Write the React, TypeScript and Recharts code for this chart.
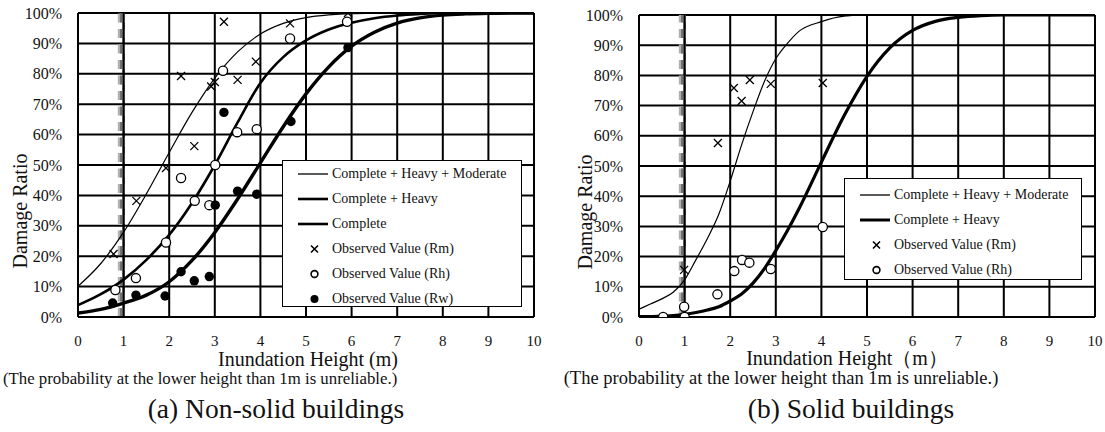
import React from "react";
import {
  ComposedChart,
  Line,
  Scatter,
  XAxis,
  YAxis,
  CartesianGrid,
  ReferenceLine,
  Legend,
  Label,
} from "recharts";

const SERIF = "'Liberation Serif', 'Times New Roman', serif";

const xTicks = [0, 1, 2, 3, 4, 5, 6, 7, 8, 9, 10];
const yTicks = [0, 10, 20, 30, 40, 50, 60, 70, 80, 90, 100];

// (a) Non-solid buildings - fitted curves
const curveXA = [0, 0.5, 1, 1.5, 2, 2.5, 3, 3.5, 4, 4.5, 5, 5.5, 6, 6.5, 7, 7.5, 8, 8.5, 9, 9.5, 10];
const chmA = [10.1, 17.6, 27.9, 40.5, 54.1, 67.3, 78.6, 87.2, 93.1, 96.6, 98.5, 99.4, 99.8, 99.9, 100, 100, 100, 100, 100, 100, 100];
const chA = [3.9, 7.5, 12.3, 18.8, 27, 37.5, 50, 64, 77, 85.5, 91, 94.6, 96.8, 98.3, 99.2, 99.7, 100, 100, 100, 100, 100];
const cA = [1.3, 2.5, 4.6, 7.2, 11.6, 18.6, 27.8, 38.8, 50.7, 62.6, 73.4, 82.3, 89.1, 93.7, 96.7, 98.4, 99.3, 99.7, 99.9, 100, 100];

// observed values (x = inundation height m, y = %)
const rmA = [[0.78, 20.7], [1.28, 38.2], [1.93, 49], [2.26, 79.3], [2.55, 56.2], [2.92, 75.8], [3.0, 77.3], [3.2, 97.1], [3.5, 78], [3.9, 84], [4.65, 96.6], [5.92, 100]];
const rhA = [[0.82, 8.9], [1.27, 12.8], [1.93, 24.5], [2.26, 45.7], [2.56, 38.2], [2.88, 36.8], [3.01, 50], [3.18, 81], [3.49, 60.8], [3.92, 61.8], [4.65, 91.6], [5.9, 97.1]];
const rwA = [[0.76, 4.6], [1.27, 7.2], [1.91, 6.9], [2.26, 14.9], [2.55, 11.9], [2.88, 13.3], [3.01, 36.8], [3.2, 67.3], [3.5, 41.4], [3.92, 40.4], [4.67, 64.3], [5.92, 88.6]];

// (b) Solid buildings
const curveXB = [0, 0.25, 0.5, 0.75, 1, 1.25, 1.5, 1.75, 2, 2.25, 2.5, 2.75, 3, 3.25, 3.5, 4, 4.5, 5, 5.5, 6, 6.5, 7, 7.5, 8, 9, 10];
const chmB = [2.6, 4.3, 6.0, 8.2, 12.3, 19, 26, 34, 45, 57, 68, 78, 85.5, 90.5, 94.5, 97.8, 99.6, 100, 100, 100, 100, 100, 100, 100, 100, 100];
const chB = [0.1, 0.15, 0.3, 0.5, 0.9, 1.5, 2.3, 3.4, 5.3, 7.6, 11.2, 16, 22, 28.5, 35.6, 51.3, 66.7, 79.7, 89.1, 94.9, 97.9, 99.2, 99.8, 100, 100, 100];

const rmB = [[0.99, 15.6], [1.73, 57.6], [2.08, 75.8], [2.25, 71.5], [2.43, 78.5], [2.89, 77.2], [4.03, 77.5]];
const rhB = [[0.53, 0], [1.0, 0], [0.99, 3.4], [1.72, 7.5], [2.09, 15.2], [2.26, 18.9], [2.42, 18], [2.89, 15.9], [4.03, 29.8]];

const toRows = (xs: number[], ys: number[]) => xs.map((x, i) => ({ x, y: ys[i] }));
const toPts = (pts: number[][]) => pts.map(([x, y]) => ({ x, y }));

const Cross = (props: any) => {
  const { cx, cy } = props;
  const s = 4;
  return (
    <path
      d={`M${cx - s},${cy - s}L${cx + s},${cy + s}M${cx - s},${cy + s}L${cx + s},${cy - s}`}
      stroke="#000"
      strokeWidth={1.3}
      fill="none"
    />
  );
};
const OpenDot = (props: any) => (
  <circle cx={props.cx} cy={props.cy} r={4.6} fill="#fff" stroke="#000" strokeWidth={1.3} />
);
const FullDot = (props: any) => <circle cx={props.cx} cy={props.cy} r={4.7} fill="#000" />;

type LegendItem = { label: string; kind: "line" | "x" | "o" | "dot"; w?: number };

function LegendBox({ items, padTop }: { items: LegendItem[]; padTop: number }) {
  return (
    <div
      style={{
        width: "100%",
        height: "100%",
        boxSizing: "border-box",
        border: "1.5px solid #000",
        background: "#fff",
        paddingTop: padTop,
        fontFamily: SERIF,
        fontSize: 14,
        color: "#111",
      }}
    >
      {items.map((it) => (
        <div key={it.label} style={{ height: 24.9, display: "flex", alignItems: "center" }}>
          <svg width={49} height={14} style={{ flex: "none" }}>
            {it.kind === "line" && <line x1={15} x2={45} y1={7} y2={7} stroke="#000" strokeWidth={it.w} />}
            {it.kind === "x" && (
              <path d="M28,3.5L35,10.5M28,10.5L35,3.5" stroke="#000" strokeWidth={1.6} />
            )}
            {it.kind === "o" && <circle cx={31.5} cy={7} r={3.4} fill="#fff" stroke="#000" strokeWidth={1.6} />}
            {it.kind === "dot" && <circle cx={31.5} cy={7} r={4} fill="#000" />}
          </svg>
          <span style={{ whiteSpace: "nowrap" }}>{it.label}</span>
        </div>
      ))}
    </div>
  );
}

type PanelProps = {
  width: number;
  margin: { top: number; right: number; bottom: number; left: number };
  lines: { data: { x: number; y: number }[]; w: number; name: string }[];
  scatters: { data: { x: number; y: number }[]; shape: any; name: string }[];
  legendItems: LegendItem[];
  legendBox: { left: number; top: number; width: number; height: number; padTop: number };
  yTitle: { x: number; y: number };
  xTitle: { x: number; y: number; text: string };
  note: { x: number; y: number; anchor: "start" | "middle"; size: number };
  caption: { x: number; y: number; text: string };
};

function Panel(p: PanelProps) {
  const bottomTexts = () => (
    <g fontFamily={SERIF} fill="#111">
      <text x={p.xTitle.x} y={p.xTitle.y} textAnchor="middle" dominantBaseline="central" fontSize={20}>
        {p.xTitle.text}
      </text>
      <text x={p.note.x} y={p.note.y} textAnchor={p.note.anchor} dominantBaseline="central" fontSize={p.note.size}>
        (The probability at the lower height than 1m is unreliable.)
      </text>
      <text x={p.caption.x} y={p.caption.y} textAnchor="middle" dominantBaseline="central" fontSize={27.5}>
        {p.caption.text}
      </text>
    </g>
  );
  const yTitle = () => (
    <text
      x={p.yTitle.x}
      y={p.yTitle.y}
      transform={`rotate(-90 ${p.yTitle.x} ${p.yTitle.y})`}
      textAnchor="middle"
      dominantBaseline="central"
      fontSize={20}
      fontFamily={SERIF}
      fill="#111"
    >
      Damage Ratio
    </text>
  );
  const { padTop, ...boxPos } = p.legendBox;
  return (
    <ComposedChart width={p.width} height={432} margin={p.margin}>
      <CartesianGrid stroke="#000" strokeWidth={2} />
      <XAxis
        type="number"
        dataKey="x"
        domain={[0, 10]}
        ticks={xTicks}
        allowDataOverflow
        axisLine={{ stroke: "#000", strokeWidth: 2 }}
        tickLine={false}
        tickSize={0}
        tickMargin={18}
        tick={{ fill: "#111", fontSize: 15, fontFamily: SERIF }}
        height={30}
        label={<Label content={bottomTexts} />}
      />
      <YAxis
        type="number"
        dataKey="y"
        domain={[0, 100]}
        ticks={yTicks}
        allowDataOverflow
        width={60}
        axisLine={{ stroke: "#000", strokeWidth: 2 }}
        tickLine={false}
        tickSize={0}
        tickMargin={16}
        tickFormatter={(v) => `${v}%`}
        tick={{ fill: "#111", fontSize: 16, fontFamily: SERIF }}
        label={<Label content={yTitle} />}
      />
      <ReferenceLine x={10} stroke="#000" strokeWidth={2} />
      <ReferenceLine y={100} stroke="#000" strokeWidth={2} />
      <ReferenceLine x={0.95} stroke="#b0b0b0" strokeWidth={7} strokeDasharray="9 6.5" />
      <ReferenceLine x={0.95} stroke="#707070" strokeWidth={2.5} strokeDasharray="9 6.5" />
      <ReferenceLine x={1} stroke="#000" strokeWidth={2} />
      {p.lines.map((l) => (
        <Line
          key={l.name}
          name={l.name}
          data={l.data}
          dataKey="y"
          type="monotone"
          stroke="#000"
          strokeWidth={l.w}
          dot={false}
          activeDot={false}
          isAnimationActive={false}
          legendType="none"
        />
      ))}
      {p.scatters.map((s) => (
        <Scatter
          key={s.name}
          name={s.name}
          data={s.data}
          dataKey="y"
          shape={s.shape}
          isAnimationActive={false}
          legendType="none"
        />
      ))}
      <Legend
        layout="vertical"
        align="center"
        verticalAlign="middle"
        wrapperStyle={{ ...boxPos }}
        content={() => <LegendBox items={p.legendItems} padTop={padTop} />}
      />
    </ComposedChart>
  );
}

export default function App() {
  return (
    <div style={{ position: "absolute", left: 0, top: 0, width: 1105, height: 432, background: "#fff" }}>
      <div style={{ position: "absolute", left: 0, top: 0 }}>
        <Panel
          width={560}
          margin={{ top: 13, right: 26, bottom: 85, left: 18 }}
          lines={[
            { name: "Complete + Heavy + Moderate", data: toRows(curveXA, chmA), w: 1.2 },
            { name: "Complete + Heavy", data: toRows(curveXA, chA), w: 2.6 },
            { name: "Complete", data: toRows(curveXA, cA), w: 3.4 },
          ]}
          scatters={[
            { name: "Observed Value (Rm)", data: toPts(rmA), shape: Cross },
            { name: "Observed Value (Rh)", data: toPts(rhA), shape: OpenDot },
            { name: "Observed Value (Rw)", data: toPts(rwA), shape: FullDot },
          ]}
          legendItems={[
            { label: "Complete + Heavy + Moderate", kind: "line", w: 1.3 },
            { label: "Complete + Heavy", kind: "line", w: 2.6 },
            { label: "Complete", kind: "line", w: 2.6 },
            { label: "Observed Value (Rm)", kind: "x" },
            { label: "Observed Value (Rh)", kind: "o" },
            { label: "Observed Value (Rw)", kind: "dot" },
          ]}
          legendBox={{ left: 282, top: 160, width: 240, height: 147, padTop: 1 }}
          yTitle={{ x: 20, y: 211 }}
          xTitle={{ x: 308, y: 359, text: "Inundation Height (m)" }}
          note={{ x: 3, y: 378, anchor: "start", size: 16.8 }}
          caption={{ x: 276, y: 408, text: "(a) Non-solid buildings" }}
        />
      </div>
      <div style={{ position: "absolute", left: 555, top: 0 }}>
        <Panel
          width={550}
          margin={{ top: 15, right: 10, bottom: 85, left: 24 }}
          lines={[
            { name: "Complete + Heavy + Moderate", data: toRows(curveXB, chmB), w: 1.2 },
            { name: "Complete + Heavy", data: toRows(curveXB, chB), w: 3.2 },
          ]}
          scatters={[
            { name: "Observed Value (Rm)", data: toPts(rmB), shape: Cross },
            { name: "Observed Value (Rh)", data: toPts(rhB), shape: OpenDot },
          ]}
          legendItems={[
            { label: "Complete + Heavy + Moderate", kind: "line", w: 1.3 },
            { label: "Complete + Heavy", kind: "line", w: 3 },
            { label: "Observed Value (Rm)", kind: "x" },
            { label: "Observed Value (Rh)", kind: "o" },
          ]}
          legendBox={{ left: 289, top: 178, width: 238, height: 102, padTop: 3.5 }}
          yTitle={{ x: 30, y: 212 }}
          xTitle={{ x: 292, y: 358, text: "Inundation Height（m）" }}
          note={{ x: 226, y: 378, anchor: "middle", size: 18.5 }}
          caption={{ x: 296, y: 408, text: "(b) Solid buildings" }}
        />
      </div>
    </div>
  );
}
